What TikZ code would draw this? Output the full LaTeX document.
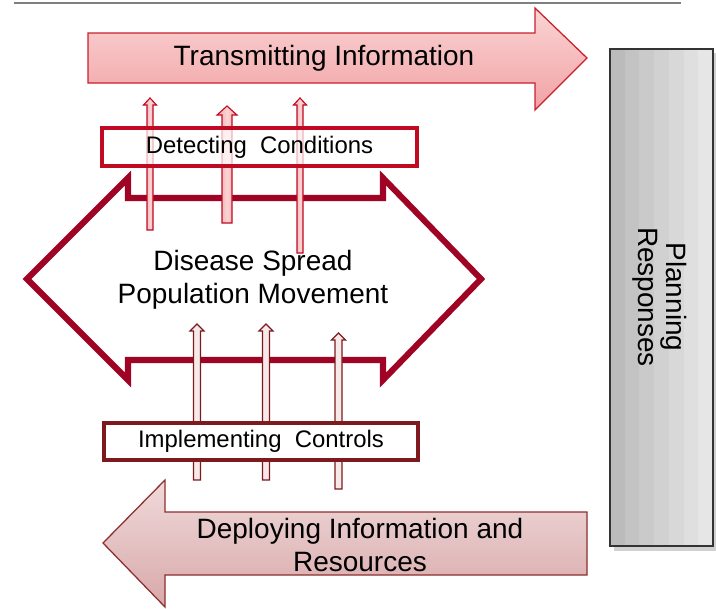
\documentclass[tikz,border=0pt]{standalone}
\usepackage{fontspec}
\setmainfont{Liberation Sans}
\usetikzlibrary{calc}
\definecolor{transred}{HTML}{C8202C}
\definecolor{transpink}{HTML}{FAD4D4}
\definecolor{transpinkdark}{HTML}{F2A2A5}
\definecolor{detectred}{HTML}{C00A22}
\definecolor{spreadred}{HTML}{A00424}
\definecolor{controlred}{HTML}{7E1A1E}
\definecolor{deploybrown}{HTML}{8E2E2E}
\definecolor{deploypink}{HTML}{F0DADA}
\definecolor{deploypinkdark}{HTML}{D8A8AA}
\definecolor{planborder}{HTML}{333333}
\definecolor{framegray}{HTML}{7F7F7F}

\tikzset{
    bigtext/.style={font=\fontsize{19.9}{23.5}\selectfont, align=center},
    boxtext/.style={font=\fontsize{17}{20}\selectfont},
}

\begin{document}
\begin{tikzpicture}[x=0.025cm, y=-0.025cm]
        \useasboundingbox (0,0) rectangle (716,608);

        % Frame edge above
        \draw[framegray, line width=1.8pt] (14,3) -- (681,3);

        % Transmitting Information
        \draw[transred, line width=0.9pt, top color=transpink, bottom color=transpinkdark]
            (88,33) -- (535,33) -- (535,8) -- (587,58) -- (535,110) -- (535,83) -- (88,83) -- cycle;
        \node[bigtext] at (324,58) (trans) {Transmitting Information};

        % Planning Responses: grey stripes, darker on the left
        \fill[black, opacity=0.18] (614,53) rectangle (716,551);
        \foreach \k in {0,...,6} {
            \pgfmathsetmacro{\lev}{73.5+2.8*\k}
            \fill[white!\lev!black] (610+\k*14.7,49) rectangle (610+\k*14.7+14.8,546);
        }
        \node[draw=planborder, line width=1.4pt, minimum width=2.575cm, minimum height=12.425cm] at (661.5,297.5) (plan) {};
        \node[bigtext, font=\fontsize{19.9}{20}\selectfont, rotate=-90] at (660,297) (plantext) {Planning\\Responses};

        % Disease Spread / Population Movement
        \draw[spreadred, line width=4.3pt]
            (27,279) -- (128,178) -- (128,198) -- (383,198) -- (383,178) -- (481,279)
            -- (383,380) -- (383,360) -- (128,360) -- (128,380) -- cycle;
        \node[bigtext, font=\fontsize{19.9}{23.5}\selectfont] at (253,280) (spread) {Disease Spread\\Population Movement};

        % Detecting arrows
        \foreach \i/\x/\yb/\yt/\sw/\hw/\hl in {1/150/230/98/3/6.5/7, 2/227/223/106/5/10/9, 3/300/253/98/3/6.5/7} {
            \coordinate (det\i-base) at (\x,\yb);
            \coordinate (det\i-tip) at (\x,\yt);
            \draw[detectred, line width=0.8pt, left color=transpinkdark, right color=transpinkdark, middle color=transpink]
                ($(det\i-base)+(-\sw,0)$) -- ($(det\i-tip)+(-\sw,\hl)$) -- ($(det\i-tip)+(-\hw,\hl)$) -- (det\i-tip)
                -- ($(det\i-tip)+(\hw,\hl)$) -- ($(det\i-tip)+(\sw,\hl)$) -- ($(det\i-base)+(\sw,0)$) -- cycle;
        }

        \node[draw=detectred, fill=white, fill opacity=0.7, text opacity=1, line width=2.8pt, minimum width=7.875cm, minimum height=0.95cm, boxtext] at (259.5,147) (detect) {Detecting\ \ Conditions};

        % Implementing arrows
        \foreach \i/\x/\yb/\yt in {1/197/480/324, 2/266/480/324, 3/338.5/489/333} {
            \coordinate (imp\i-base) at (\x,\yb);
            \coordinate (imp\i-tip) at (\x,\yt);
            \draw[controlred, line width=0.8pt, fill=deploypink!60!white]
                ($(imp\i-base)+(-3.5,0)$) -- ($(imp\i-tip)+(-3.5,7)$) -- ($(imp\i-tip)+(-7,7)$) -- (imp\i-tip)
                -- ($(imp\i-tip)+(7,7)$) -- ($(imp\i-tip)+(3.5,7)$) -- ($(imp\i-base)+(3.5,0)$) -- cycle;
        }

        \node[draw=controlred, fill=white, line width=2.8pt, minimum width=7.85cm, minimum height=0.925cm, boxtext] at (261,441.5) (implement) {Implementing\ \ Controls};

        % Deploying Information and Resources
        \draw[deploybrown, line width=0.9pt, top color=deploypink, bottom color=deploypinkdark]
            (587,512) -- (165,512) -- (165,480) -- (103,543) -- (165,607) -- (165,575) -- (587,575) -- cycle;
        \node[bigtext, font=\fontsize{19.9}{24}\selectfont] at (360,545) (deploy) {Deploying Information and\\Resources};

\end{tikzpicture}
\end{document}
